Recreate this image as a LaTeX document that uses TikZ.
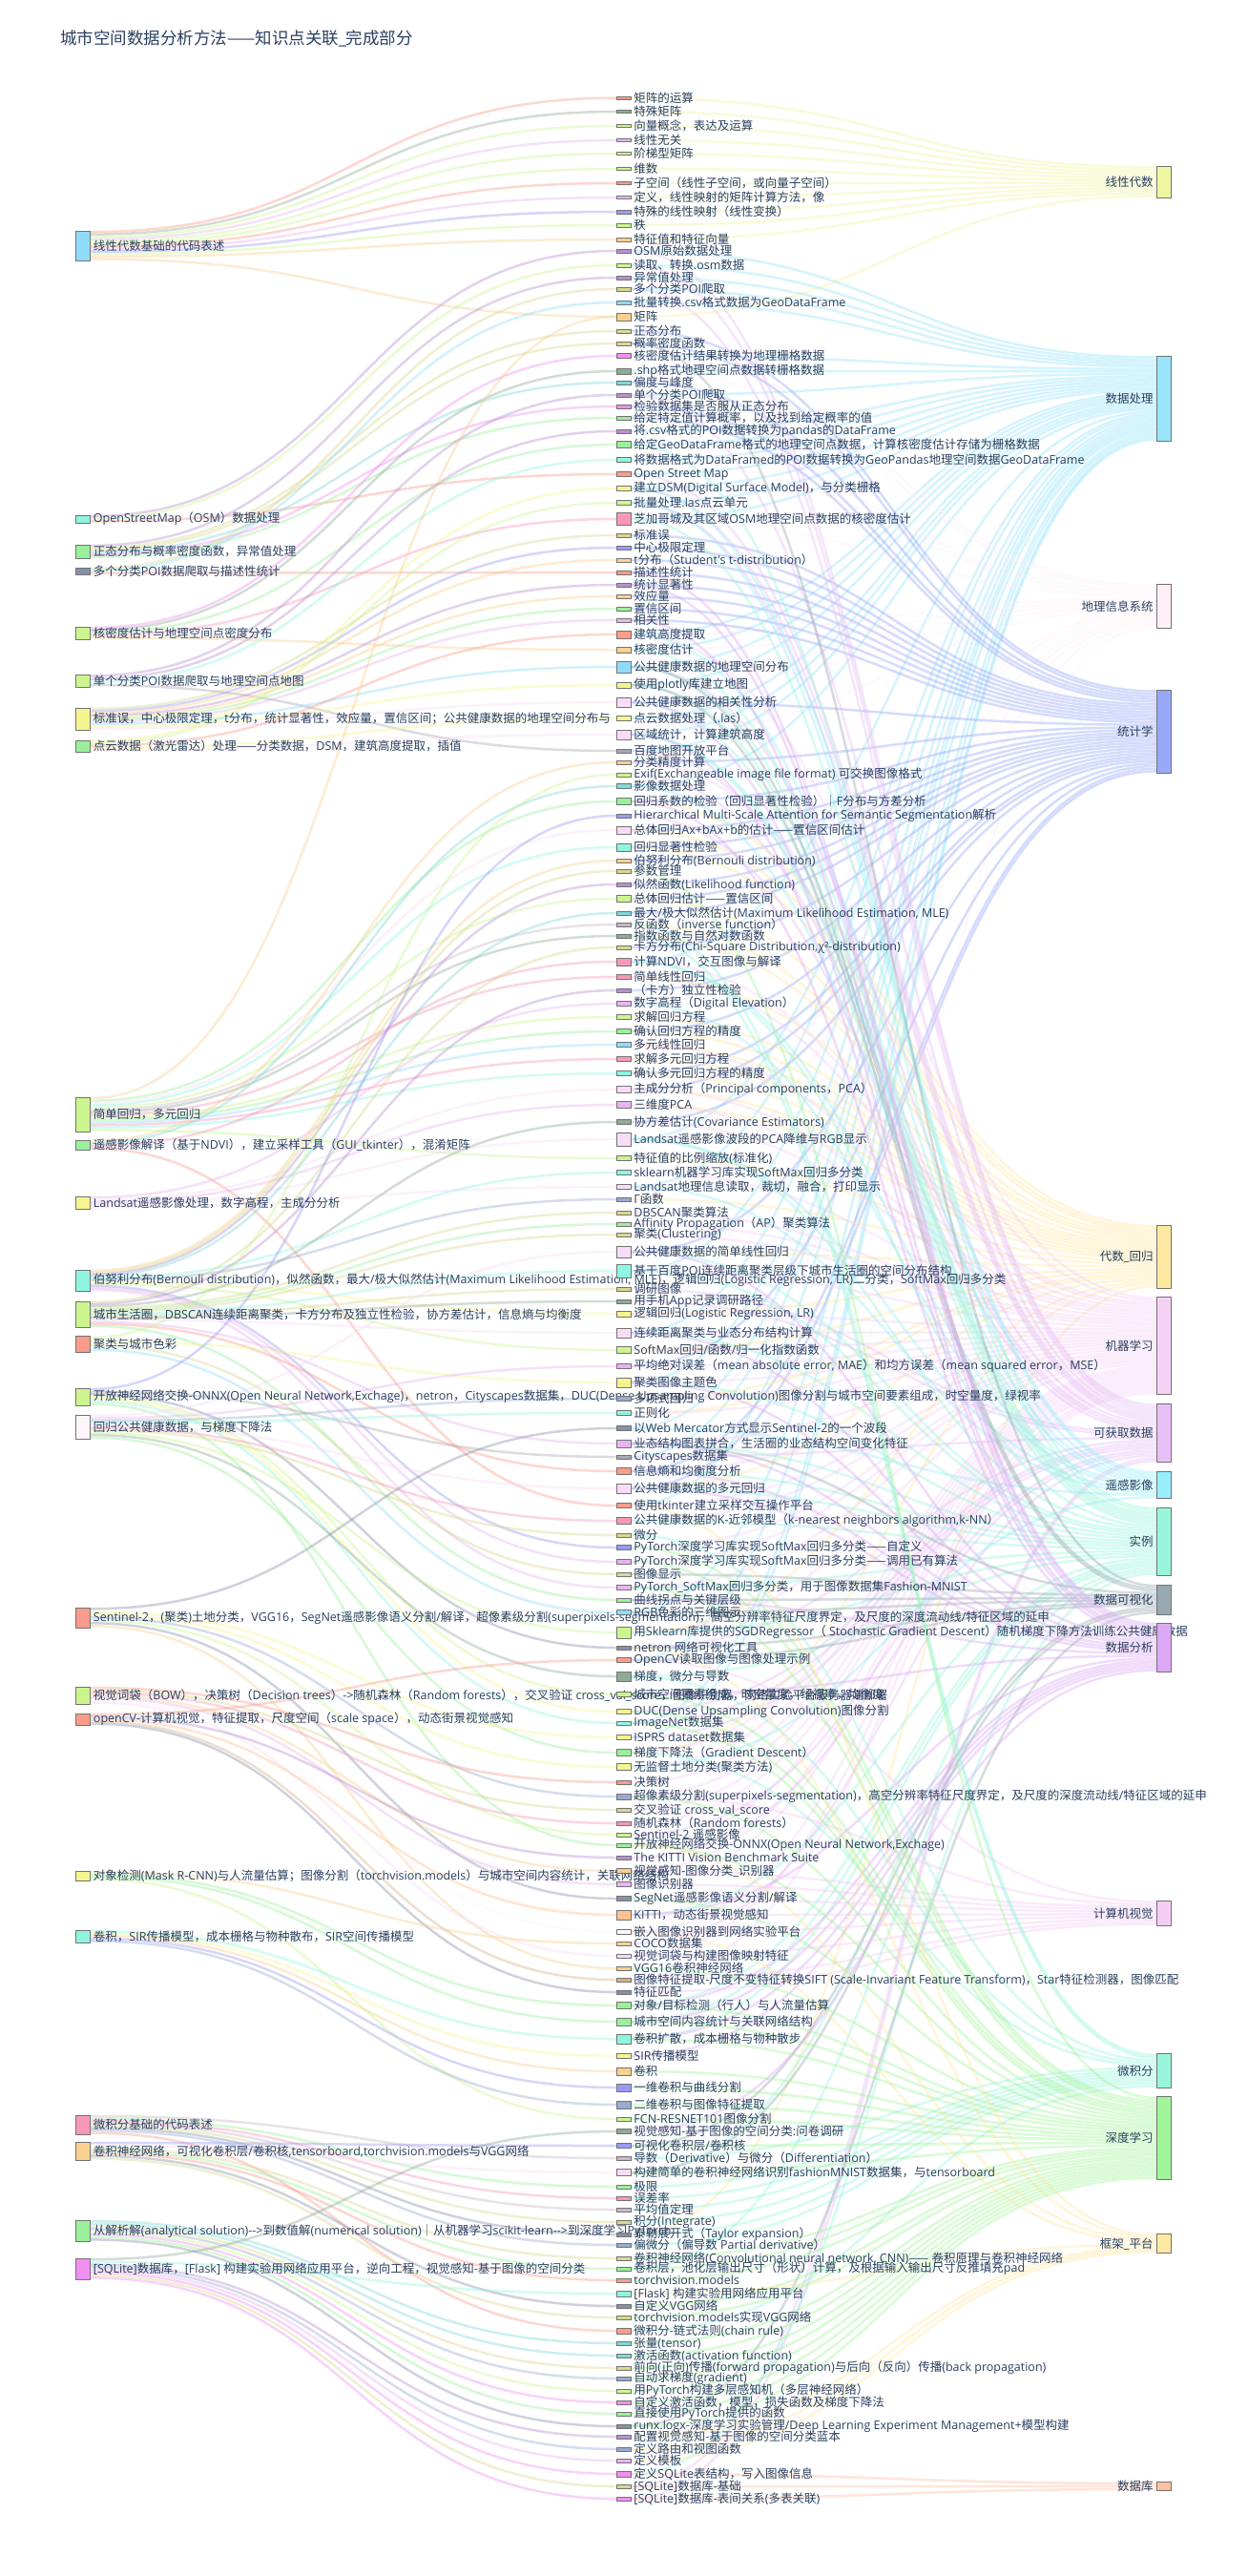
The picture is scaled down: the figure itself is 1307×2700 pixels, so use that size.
\documentclass[tikz,border=0pt]{standalone}
\usepackage{fontspec}
\setmainfont{Open Sans}[Ligatures=TeXOff]
\newfontfamily\latinfont{Open Sans}[Ligatures=TeXOff]
\newfontfamily\cjkfont{Noto Sans CJK SC}[Ligatures=TeXOff]
\XeTeXinterchartokenstate=1
\newXeTeXintercharclass\cjkclass
\count255="3000
\loop \XeTeXcharclass\count255=\cjkclass \advance\count255 by 1 \ifnum\count255<"A000 \repeat
\count255="FF00
\loop \XeTeXcharclass\count255=\cjkclass \advance\count255 by 1 \ifnum\count255<"FFF0 \repeat
\XeTeXcharclass"2014=\cjkclass
\XeTeXinterchartoks 0 \cjkclass = {\cjkfont}
\XeTeXinterchartoks 4095 \cjkclass = {\cjkfont}
\XeTeXinterchartoks \cjkclass 0 = {\latinfont}
\XeTeXinterchartoks \cjkclass 4095 = {\latinfont}
\usepackage{tikz}
\usetikzlibrary{backgrounds}

\definecolor{cText}{HTML}{2A3F5F}
\definecolor{cSal}{HTML}{FA9C8A}
\definecolor{cSea}{HTML}{8FAA96}
\definecolor{cLime}{HTML}{CCF590}
\definecolor{cViol}{HTML}{E8B4F0}
\definecolor{cBlue}{HTML}{9A9AF5}
\definecolor{cTan}{HTML}{F8D090}
\definecolor{cPur}{HTML}{B890D0}
\definecolor{cSky}{HTML}{90DCF8}
\definecolor{cGreen}{HTML}{9AF09A}
\definecolor{cAqua}{HTML}{90F5E0}
\definecolor{cTeal}{HTML}{80D8D8}
\definecolor{cPink}{HTML}{F898B8}
\definecolor{cMag}{HTML}{F090F0}
\definecolor{cYel}{HTML}{F5F590}
\definecolor{cLav}{HTML}{F8DCF5}
\definecolor{cGray}{HTML}{A8A8B0}
\definecolor{cSteel}{HTML}{98AAD0}
\definecolor{cKhaki}{HTML}{D8D890}
\definecolor{cPeach}{HTML}{FFC090}
\definecolor{cSlate}{HTML}{8890A8}
\definecolor{cWhite}{HTML}{FCF5FA}
\definecolor{cLgray}{HTML}{C8B8C8}
\definecolor{cBrown}{HTML}{D8B088}
% category colours
\definecolor{rLA}{HTML}{F0F5A0}
\definecolor{rDP}{HTML}{98E4FA}
\definecolor{rGIS}{HTML}{FFF0F8}
\definecolor{rST}{HTML}{98A8F8}
\definecolor{rAR}{HTML}{FFE8A0}
\definecolor{rML}{HTML}{F5D2F5}
\definecolor{rAD}{HTML}{E8C0F5}
\definecolor{rRS}{HTML}{98EEFA}
\definecolor{rEX}{HTML}{98F5DC}
\definecolor{rDV}{HTML}{98A8B0}
\definecolor{rDA}{HTML}{DDA8F5}
\definecolor{rCV}{HTML}{F5CCF5}
\definecolor{rCA}{HTML}{98F5DC}
\definecolor{rDL}{HTML}{A0F598}
\definecolor{rFW}{HTML}{FFE8A0}
\definecolor{rDB}{HTML}{FFC0A0}

\tikzset{
  nodebar/.style={draw=black!55, line width=0.5pt, inner sep=0pt, minimum width=15pt},
  lab/.style={text=cText, font=\fontsize{12.5}{14}\selectfont, inner sep=1pt},
  lnk/.style={line width=2.5pt, draw opacity=0.4},
}

\begin{document}
\begin{tikzpicture}[x=1pt,y=-1pt]
\useasboundingbox (0,0) rectangle (1307,2700);

% Title
\node[lab, anchor=west, font=\fontsize{17.5}{20}\selectfont] (title) at (62,40) {城市空间数据分析方法——知识点关联\_完成部分};

% Courses
\foreach \nm/\yy/\hh/\cl/\lab in {
  L1/257.5/31/cSky/{线性代数基础的代码表述},
  L2/544/8/cAqua/{OpenStreetMap（OSM）数据处理},
  L3/578/14/cGreen/{正态分布与概率密度函数，异常值处理},
  L4/598.5/7/cSlate/{多个分类POI数据爬取与描述性统计},
  L5/663.5/13/cLime/{核密度估计与地理空间点密度分布},
  L6/713.5/13/cLime/{单个分类POI数据爬取与地理空间点地图},
  L7/753.5/23/cYel/{标准误，中心极限定理，t分布，统计显著性，效应量，置信区间；公共健康数据的地理空间分布与},
  L8/782/12/cGreen/{点云数据（激光雷达）处理——分类数据，DSM，建筑高度提取，插值},
  L9/1168/36/cLime/{简单回归，多元回归},
  L10/1200/10/cGreen/{遥感影像解译（基于NDVI），建立采样工具（GUI\_tkinter），混淆矩阵},
  L11/1260.5/13/cYel/{Landsat遥感影像处理，数字高程，主成分分析},
  L12/1342/22/cAqua/{伯努利分布(Bernouli distribution)，似然函数，最大/极大似然估计(Maximum Likelihood Estimation, MLE)，逻辑回归(Logistic Regression, LR)二分类，SoftMax回归多分类},
  L13/1377.5/27/cLime/{城市生活圈，DBSCAN连续距离聚类，卡方分布及独立性检验，协方差估计，信息熵与均衡度},
  L14/1408.5/17/cSal/{聚类与城市色彩},
  L15/1464/18/cLime/{开放神经网络交换-ONNX(Open Neural Network,Exchage)，netron，Cityscapes数据集，DUC(Dense Upsampling Convolution)图像分割与城市空间要素组成，时空量度，绿视率},
  L16/1495.5/25/cWhite/{回归公共健康数据，与梯度下降法},
  L17/1695.5/21/cSal/{Sentinel-2，(聚类)土地分类，VGG16，SegNet遥感影像语义分割/解译，超像素级分割(superpixels-segmentation)，高空分辨率特征尺度界定，及尺度的深度流动线/特征区域的延申},
  L18/1777/18/cLime/{视觉词袋（BOW），决策树（Decision trees）->随机森林（Random forests），交叉验证 cross\_val\_score，图像识别器，网络实验平台服务器端部署},
  L19/1802/12/cSal/{openCV-计算机视觉，特征提取，尺度空间（scale space），动态街景视觉感知},
  L20/1966/10/cYel/{对象检测(Mask R-CNN)与人流量估算；图像分割（torchvision.models）与城市空间内容统计，关联网络结构},
  L21/2029.5/13/cAqua/{卷积，SIR传播模型，成本栅格与物种散布，SIR空间传播模型},
  L22/2227/20/cPink/{微积分基础的代码表述},
  L23/2254.5/19/cTan/{卷积神经网络，可视化卷积层/卷积核,tensorboard,torchvision.models与VGG网络},
  L24/2338/22/cGreen/{从解析解(analytical solution)-->到数值解(numerical solution)｜从机器学习scikit-learn-->到深度学习PyTorch},
  L25/2378/22/cMag/{[SQLite]数据库，[Flask] 构建实验用网络应用平台，逆向工程，视觉感知-基于图像的空间分类}}{
  \node[nodebar, fill=\cl, minimum height=\hh] (\nm) at (87,\yy) {};
  \node[lab, anchor=west] (\nm-t) at ([xshift=2pt]\nm.east) {\lab};
}

% Knowledge points
\foreach \idx/\yy/\hh/\cl/\lab in {
  1/102.7/3.5/cSal/{矩阵的运算},
  2/117/3.5/cSea/{特殊矩阵},
  3/132/3.5/cLime/{向量概念，表达及运算},
  4/147/3.5/cViol/{线性无关},
  5/161/3.5/cLime/{阶梯型矩阵},
  6/177/3.5/cLime/{维数},
  7/192/3.5/cSal/{子空间（线性子空间，或向量子空间）},
  8/207/3.5/cViol/{定义，线性映射的矩阵计算方法，像},
  9/222/3.5/cBlue/{特殊的线性映射（线性变换）},
  10/236/3.5/cLime/{秩},
  11/251/3.5/cTan/{特征值和特征向量},
  12/263/3.5/cPur/{OSM原始数据处理},
  13/278/3.5/cLime/{读取、转换.osm数据},
  14/291/3.5/cPur/{异常值处理},
  15/303/3.5/cKhaki/{多个分类POI爬取},
  16/317/3.5/cSky/{批量转换.csv格式数据为GeoDataFrame},
  17/332/8/cTan/{矩阵},
  18/347/3.5/cKhaki/{正态分布},
  19/360/3.5/cKhaki/{概率密度函数},
  20/373/5/cMag/{核密度估计结果转换为地理栅格数据},
  21/389/6/cSea/{.shp格式地理空间点数据转栅格数据},
  22/401/3.5/cTeal/{偏度与峰度},
  23/414/3.5/cPur/{单个分类POI爬取},
  24/426/3.5/cMag/{检验数据集是否服从正态分布},
  25/438/3.5/cGreen/{给定特定值计算概率，以及找到给定概率的值},
  26/452/3.5/cPur/{将.csv格式的POI数据转换为pandas的DataFrame},
  27/466/7/cGreen/{给定GeoDataFrame格式的地理空间点数据，计算核密度估计存储为栅格数据},
  28/482/5/cAqua/{将数据格式为DataFramed的POI数据转换为GeoPandas地理空间数据GeoDataFrame},
  29/497/5/cSal/{Open Street Map},
  30/512/5/cYel/{建立DSM(Digital Surface Model)，与分类栅格},
  31/527/5/cLime/{批量处理.las点云单元},
  32/544/13/cPink/{芝加哥城及其区域OSM地理空间点数据的核密度估计},
  33/561/3.5/cKhaki/{标准误},
  34/574/3.5/cBlue/{中心极限定理},
  35/587/3.5/cTan/{t分布（Student's t-distribution）},
  36/600/3.5/cSal/{描述性统计},
  37/613/3.5/cPur/{统计显著性},
  38/625/3.5/cTan/{效应量},
  39/638/3.5/cGreen/{置信区间},
  40/650/3.5/cViol/{相关性},
  41/665/8/cSal/{建筑高度提取},
  42/681/6/cTan/{核密度估计},
  43/699/12/cSky/{公共健康数据的地理空间分布},
  44/718/6/cYel/{使用plotly库建立地图},
  45/736/10/cLav/{公共健康数据的相关性分析},
  46/753/5/cYel/{点云数据处理（.las）},
  47/770/10/cLav/{区域统计，计算建筑高度},
  48/787/3.5/cGray/{百度地图开放平台},
  49/799/3.5/cTan/{分类精度计算},
  50/812/3.5/cLime/{Exif(Exchangeable image file format) 可交换图像格式},
  51/824/5/cTeal/{影像数据处理},
  52/840/7/cGreen/{回归系数的检验（回归显著性检验）｜F分布与方差分析},
  53/855/3.5/cBlue/{Hierarchical Multi-Scale Attention for Semantic Segmentation解析},
  54/870/8/cLav/{总体回归Ax+bAx+b的估计——置信区间估计},
  55/888/8/cAqua/{回归显著性检验},
  56/902/3.5/cTan/{伯努利分布(Bernouli distribution)},
  57/913/3.5/cKhaki/{参数管理},
  58/927/3.5/cPur/{似然函数(Likelihood function)},
  59/942/7/cLime/{总体回归估计——置信区间},
  60/957/3.5/cTeal/{最大/极大似然估计(Maximum Likelihood Estimation, MLE)},
  61/969/3.5/cLgray/{反函数（inverse function）},
  62/981/3.5/cSea/{指数函数与自然对数函数},
  63/993/3.5/cKhaki/{卡方分布(Chi-Square Distribution,χ²-distribution)},
  64/1008/8/cPink/{计算NDVI，交互图像与解译},
  65/1024/5/cPink/{简单线性回归},
  66/1038/3.5/cPur/{（卡方）独立性检验},
  67/1052/5/cViol/{数字高程（Digital Elevation）},
  68/1066/5/cLime/{求解回归方程},
  69/1081/5/cGreen/{确认回归方程的精度},
  70/1095/5/cSky/{多元线性回归},
  71/1110/5/cPink/{求解多元回归方程},
  72/1125/5/cAqua/{确认多元回归方程的精度},
  73/1142/7/cLav/{主成分分析（Principal components，PCA）},
  74/1158/7/cViol/{三维度PCA},
  75/1176/5/cSea/{协方差估计(Covariance Estimators)},
  76/1194/14/cLav/{Landsat遥感影像波段的PCA降维与RGB显示},
  77/1214/5/cLime/{特征值的比例缩放(标准化)},
  78/1229/5/cAqua/{sklearn机器学习库实现SoftMax回归多分类},
  79/1244/5/cLav/{Landsat地理信息读取，裁切，融合，打印显示},
  80/1257/3.5/cSteel/{Γ函数},
  81/1271/3.5/cKhaki/{DBSCAN聚类算法},
  82/1283/3.5/cGreen/{Affinity Propagation（AP）聚类算法},
  83/1294/3.5/cKhaki/{聚类(Clustering)},
  84/1312/12/cLav/{公共健康数据的简单线性回归},
  85/1332/14/cAqua/{基于百度POI连续距离聚类层级下城市生活圈的空间分布结构},
  86/1351/3.5/cKhaki/{调研图像},
  87/1364/3.5/cSea/{用手机App记录调研路径},
  88/1377/6/cYel/{逻辑回归(Logistic Regression, LR)},
  89/1397/10/cLav/{连续距离聚类与业态分布结构计算},
  90/1415/7/cLime/{SoftMax回归/函数/归一化指数函数},
  91/1432/5/cViol/{平均绝对误差（mean absolute error, MAE）和均方误差（mean squared error，MSE）},
  92/1449/10/cYel/{聚类图像主题色},
  93/1466/5/cSteel/{多项式回归},
  94/1481/5/cAqua/{正则化},
  95/1497/5/cSlate/{以Web Mercator方式显示Sentinel-2的一个波段},
  96/1513/8/cViol/{业态结构图表拼合，生活圈的业态结构空间变化特征},
  97/1527/3.5/cGray/{Cityscapes数据集},
  98/1542/7/cSal/{信息熵和均衡度分析},
  99/1560/10/cLav/{公共健康数据的多元回归},
  100/1578/5/cSal/{使用tkinter建立采样交互操作平台},
  101/1594/7/cPink/{公共健康数据的K-近邻模型（k-nearest neighbors algorithm,k-NN）},
  102/1609/3.5/cKhaki/{微分},
  103/1622/5/cBlue/{PyTorch深度学习库实现SoftMax回归多分类——自定义},
  104/1637/5/cViol/{PyTorch深度学习库实现SoftMax回归多分类——调用已有算法},
  105/1650/3.5/cKhaki/{图像显示},
  106/1664/5/cViol/{PyTorch\_SoftMax回归多分类，用于图像数据集Fashion-MNIST},
  107/1677/3.5/cGreen/{曲线拐点与关键层级},
  108/1690/5/cSky/{RGB色彩的三维图示},
  109/1711/12/cLime/{用Sklearn库提供的SGDRegressor（ Stochastic Gradient Descent）随机梯度下降方法训练公共健康数据},
  110/1727/3.5/cSlate/{netron 网络可视化工具},
  111/1740/5/cSal/{OpenCV读取图像与图像处理示例},
  112/1757/10/cSea/{梯度，微分与导数},
  113/1776/5/cLime/{城市空间要素组成，时空量度，绿视率，均衡度},
  114/1794/5/cYel/{DUC(Dense Upsampling Convolution)图像分割},
  115/1806/3.5/cAqua/{ImageNet数据集},
  116/1821/5/cYel/{ISPRS dataset数据集},
  117/1837/7/cGreen/{梯度下降法（Gradient Descent）},
  118/1852/7/cYel/{无监督土地分类(聚类方法)},
  119/1868/3.5/cSal/{决策树},
  120/1883/6/cSteel/{超像素级分割(superpixels-segmentation)，高空分辨率特征尺度界定，及尺度的深度流动线/特征区域的延申},
  121/1897/3.5/cKhaki/{交叉验证 cross\_val\_score},
  122/1911/3.5/cPink/{随机森林（Random forests）},
  123/1923/3.5/cLime/{Sentinel-2 遥感影像},
  124/1934/3.5/cGreen/{开放神经网络交换-ONNX(Open Neural Network,Exchage)},
  125/1947/3.5/cPur/{The KITTI Vision Benchmark Suite},
  126/1961/5/cTan/{视觉感知-图像分类\_识别器},
  127/1975/5/cViol/{图像识别器},
  128/1990/5/cSlate/{SegNet遥感影像语义分割/解译},
  129/2007/10/cPeach/{KITTI，动态街景视觉感知},
  130/2025/5/cWhite/{嵌入图像识别器到网络实验平台},
  131/2037/3.5/cTan/{COCO数据集},
  132/2050/3.5/cLav/{视觉词袋与构建图像映射特征},
  133/2063/3.5/cTan/{VGG16卷积神经网络},
  134/2075/3.5/cBrown/{图像特征提取-尺度不变特征转换SIFT (Scale-Invariant Feature Transform)，Star特征检测器，图像匹配},
  135/2088/3.5/cSlate/{特征匹配},
  136/2102/7/cGreen/{对象/目标检测（行人）与人流量估算},
  137/2119/8/cGreen/{城市空间内容统计与关联网络结构},
  138/2137/10/cAqua/{卷积扩散，成本栅格与物种散步},
  139/2155/5/cYel/{SIR传播模型},
  140/2171/8/cTan/{卷积},
  141/2188/8/cBlue/{一维卷积与曲线分割},
  142/2206/8/cSteel/{二维卷积与图像特征提取},
  143/2221/3.5/cLime/{FCN-RESNET101图像分割},
  144/2234/5/cSea/{视觉感知-基于图像的空间分类:问卷调研},
  145/2249/5/cBlue/{可视化卷积层/卷积核},
  146/2262/3.5/cLgray/{导数（Derivative）与微分（Differentiation）},
  147/2277/7/cLav/{构建简单的卷积神经网络识别fashionMNIST数据集，与tensorboard},
  148/2292/3.5/cGreen/{极限},
  149/2304/3.5/cPink/{误差率},
  150/2316/3.5/cLgray/{平均值定理},
  151/2329/3.5/cKhaki/{积分(Integrate)},
  152/2342/3.5/cSlate/{泰勒展开式（Taylor expansion）},
  153/2353/3.5/cSteel/{偏微分（偏导数 Partial derivative）},
  154/2367/3.5/cKhaki/{卷积神经网络(Convolutional neural network, CNN)—— 卷积原理与卷积神经网络},
  155/2378/3.5/cGreen/{卷积层，池化层输出尺寸（形状）计算，及根据输入输出尺寸反推填充pad},
  156/2390/3.5/cSal/{torchvision.models},
  157/2404/6/cAqua/{[Flask] 构建实验用网络应用平台},
  158/2417/3.5/cSlate/{自定义VGG网络},
  159/2429/3.5/cKhaki/{torchvision.models实现VGG网络},
  160/2443/6/cSal/{微积分-链式法则(chain rule)},
  161/2456/3.5/cTeal/{张量(tensor)},
  162/2469/3.5/cTeal/{激活函数(activation function)},
  163/2482/3.5/cKhaki/{前向(正向)传播(forward propagation)与后向（反向）传播(back propagation)},
  164/2493/3.5/cSteel/{自动求梯度(gradient)},
  165/2506/3.5/cLime/{用PyTorch构建多层感知机（多层神经网络）},
  166/2518/3.5/cMag/{自定义激活函数，模型，损失函数及梯度下降法},
  167/2530/3.5/cGreen/{直接使用PyTorch提供的函数},
  168/2543/3.5/cSlate/{runx.logx-深度学习实验管理/Deep Learning Experiment Management+模型构建},
  169/2554/3.5/cPur/{配置视觉感知-基于图像的空间分类蓝本},
  170/2567/3.5/cSteel/{定义路由和视图函数},
  171/2579/3.5/cViol/{定义模板},
  172/2593/6/cMag/{定义SQLite表结构，写入图像信息},
  173/2606/3.5/cKhaki/{[SQLite]数据库-基础},
  174/2619/3.5/cMag/{[SQLite]数据库-表间关系(多表关联)}}{
  \node[nodebar, fill=\cl, minimum height=\hh] (m\idx) at (653.5,\yy) {};
  \node[lab, anchor=west] (m\idx-t) at ([xshift=2pt]m\idx.east) {\lab};
  \expandafter\xdef\csname mc\idx\endcsname{\cl}
}

% Categories
\foreach \nm/\yy/\hh/\cl/\lab in {
  R1/190.5/33/rLA/{线性代数},
  R2/418/89/rDP/{数据处理},
  R3/635.5/45.6/rGIS/{地理信息系统},
  R4/766.7/86.7/rST/{统计学},
  R5/1317/66/rAR/{代数\_回归},
  R6/1410.5/102.4/rML/{机器学习},
  R7/1502.2/61/rAD/{可获取数据},
  R8/1556.5/28.4/rRS/{遥感影像},
  R9/1615.5/71/rEX/{实例},
  R10/1676.4/30.7/rDV/{数据可视化},
  R11/1726.7/51.3/rDA/{数据分析},
  R12/2005.3/26/rCV/{计算机视觉},
  R13/2170.5/35.6/rCA/{微积分},
  R14/2241/86.6/rDL/{深度学习},
  R15/2351.7/20/rFW/{框架\_平台},
  R16/2606.2/9/rDB/{数据库}}{
  \node[nodebar, fill=\cl, minimum height=\hh] (\nm) at (1219.5,\yy) {};
  \node[lab, anchor=east] (\nm-t) at ([xshift=-2pt]\nm.west) {\lab};
}

\begin{scope}[on background layer]
\fill[white] (0,0) rectangle (1307,2700);

% course -> knowledge point
\foreach \src/\nn/\hh/\lst in {
  L1/12/31/{1,2,3,4,5,6,7,8,9,10,11,17},
  L2/3/8/{12,13,29},
  L3/6/14/{14,18,19,22,24,25},
  L4/3/7/{15,16,36},
  L5/5/13/{20,21,27,32,42},
  L6/4/13/{23,26,28,48},
  L7/10/23/{33,34,35,37,38,39,40,43,44,45},
  L8/5/12/{30,31,41,46,47},
  L9/14/36/{17,52,54,55,59,61,62,65,68,69,70,71,72,77},
  L10/4/10/{49,51,64,100},
  L11/5/13/{67,73,74,76,79},
  L12/11/22/{56,57,58,60,78,80,88,90,103,104,106},
  L13/13/27/{63,66,75,81,82,83,85,86,87,89,96,98,107},
  L14/4/17/{50,92,105,108},
  L15/7/18/{53,97,110,113,114,115,124},
  L16/10/25/{84,91,93,94,99,101,102,109,112,117},
  L17/7/21/{95,116,118,120,123,128,133},
  L18/7/18/{119,121,122,126,127,130,132},
  L19/5/12/{111,125,129,134,135},
  L20/4/10/{131,136,137,143},
  L21/5/13/{138,139,140,141,142},
  L22/8/20/{146,148,149,150,151,152,153,160},
  L23/7/19/{145,147,154,155,156,158,159},
  L24/8/22/{161,162,163,164,165,166,167,168},
  L25/8/22/{144,157,169,170,171,172,173,174}}{
  \foreach \m [count=\kk] in \lst {
    \pgfmathsetmacro\dy{(\kk-0.5)*\hh/\nn}
    \edef\lc{\csname mc\m\endcsname}
    \draw[lnk, draw=\lc] ([yshift=-\dy pt]\src.north east) .. controls +(275,0) and +(-275,0) .. (m\m.west);
  }
}

% knowledge point -> category
\foreach \dst/\nn/\hh/\cl/\lst in {
  R1/12/33/rLA/{1,2,3,4,5,6,7,8,9,10,11,17},
  R2/36/89/rDP/{12,13,14,15,16,20,21,23,26,27,28,29,30,31,32,41,42,43,44,46,47,48,51,64,76,79,85,89,92,95,97,100,108,111,115,116},
  R3/17/45.6/rGIS/{20,21,27,28,32,41,42,43,44,47,64,67,76,79,85,95,123},
  R4/32/86.7/rST/{18,19,22,24,25,33,34,35,36,37,38,39,40,45,49,52,54,55,56,58,59,60,63,66,69,72,73,75,84,91,98,99},
  R5/25/66/rAR/{52,54,55,59,61,62,65,68,69,70,71,72,73,74,77,80,84,88,90,93,94,99,109,117,152},
  R6/40/102.4/rML/{41,49,64,65,70,73,74,75,78,81,82,83,85,88,89,90,91,92,93,94,96,98,100,101,103,104,106,109,117,118,119,120,121,122,124,126,127,130,132,134},
  R7/23/61/rAD/{12,13,15,23,29,30,31,43,48,50,53,86,87,97,110,114,115,116,123,125,131,173,174},
  R8/11/28.4/rRS/{30,31,41,47,51,64,67,76,79,95,118},
  R9/27/71/rEX/{27,32,42,43,44,45,47,64,76,84,85,89,92,96,98,99,101,106,109,112,129,136,137,138,147,155,172},
  R10/12/30.7/rDV/{19,43,44,96,105,107,108,110,111,145,147,168},
  R11/20/51.3/rDA/{36,37,40,45,47,52,84,89,92,96,98,99,107,113,129,136,137,138,139,144},
  R12/10/26/rCV/{111,120,126,127,128,129,130,132,134,135},
  R13/13/35.6/rCA/{61,62,102,112,117,146,148,149,150,151,152,153,160},
  R14/33/86.6/rDL/{57,103,104,106,113,114,115,120,124,128,133,136,137,138,140,141,142,143,145,147,154,155,156,158,159,161,162,163,164,165,166,167,168},
  R15/8/20/rFW/{100,110,124,130,157,169,170,171},
  R16/3/9/rDB/{172,173,174}}{
  \foreach \m [count=\kk] in \lst {
    \pgfmathsetmacro\dy{(\kk-0.5)*\hh/\nn}
    \draw[lnk, draw=\cl] (m\m.east) .. controls +(275,0) and +(-275,0) .. ([yshift=-\dy pt]\dst.north west);
  }
}
\end{scope}

\end{tikzpicture}
\end{document}
